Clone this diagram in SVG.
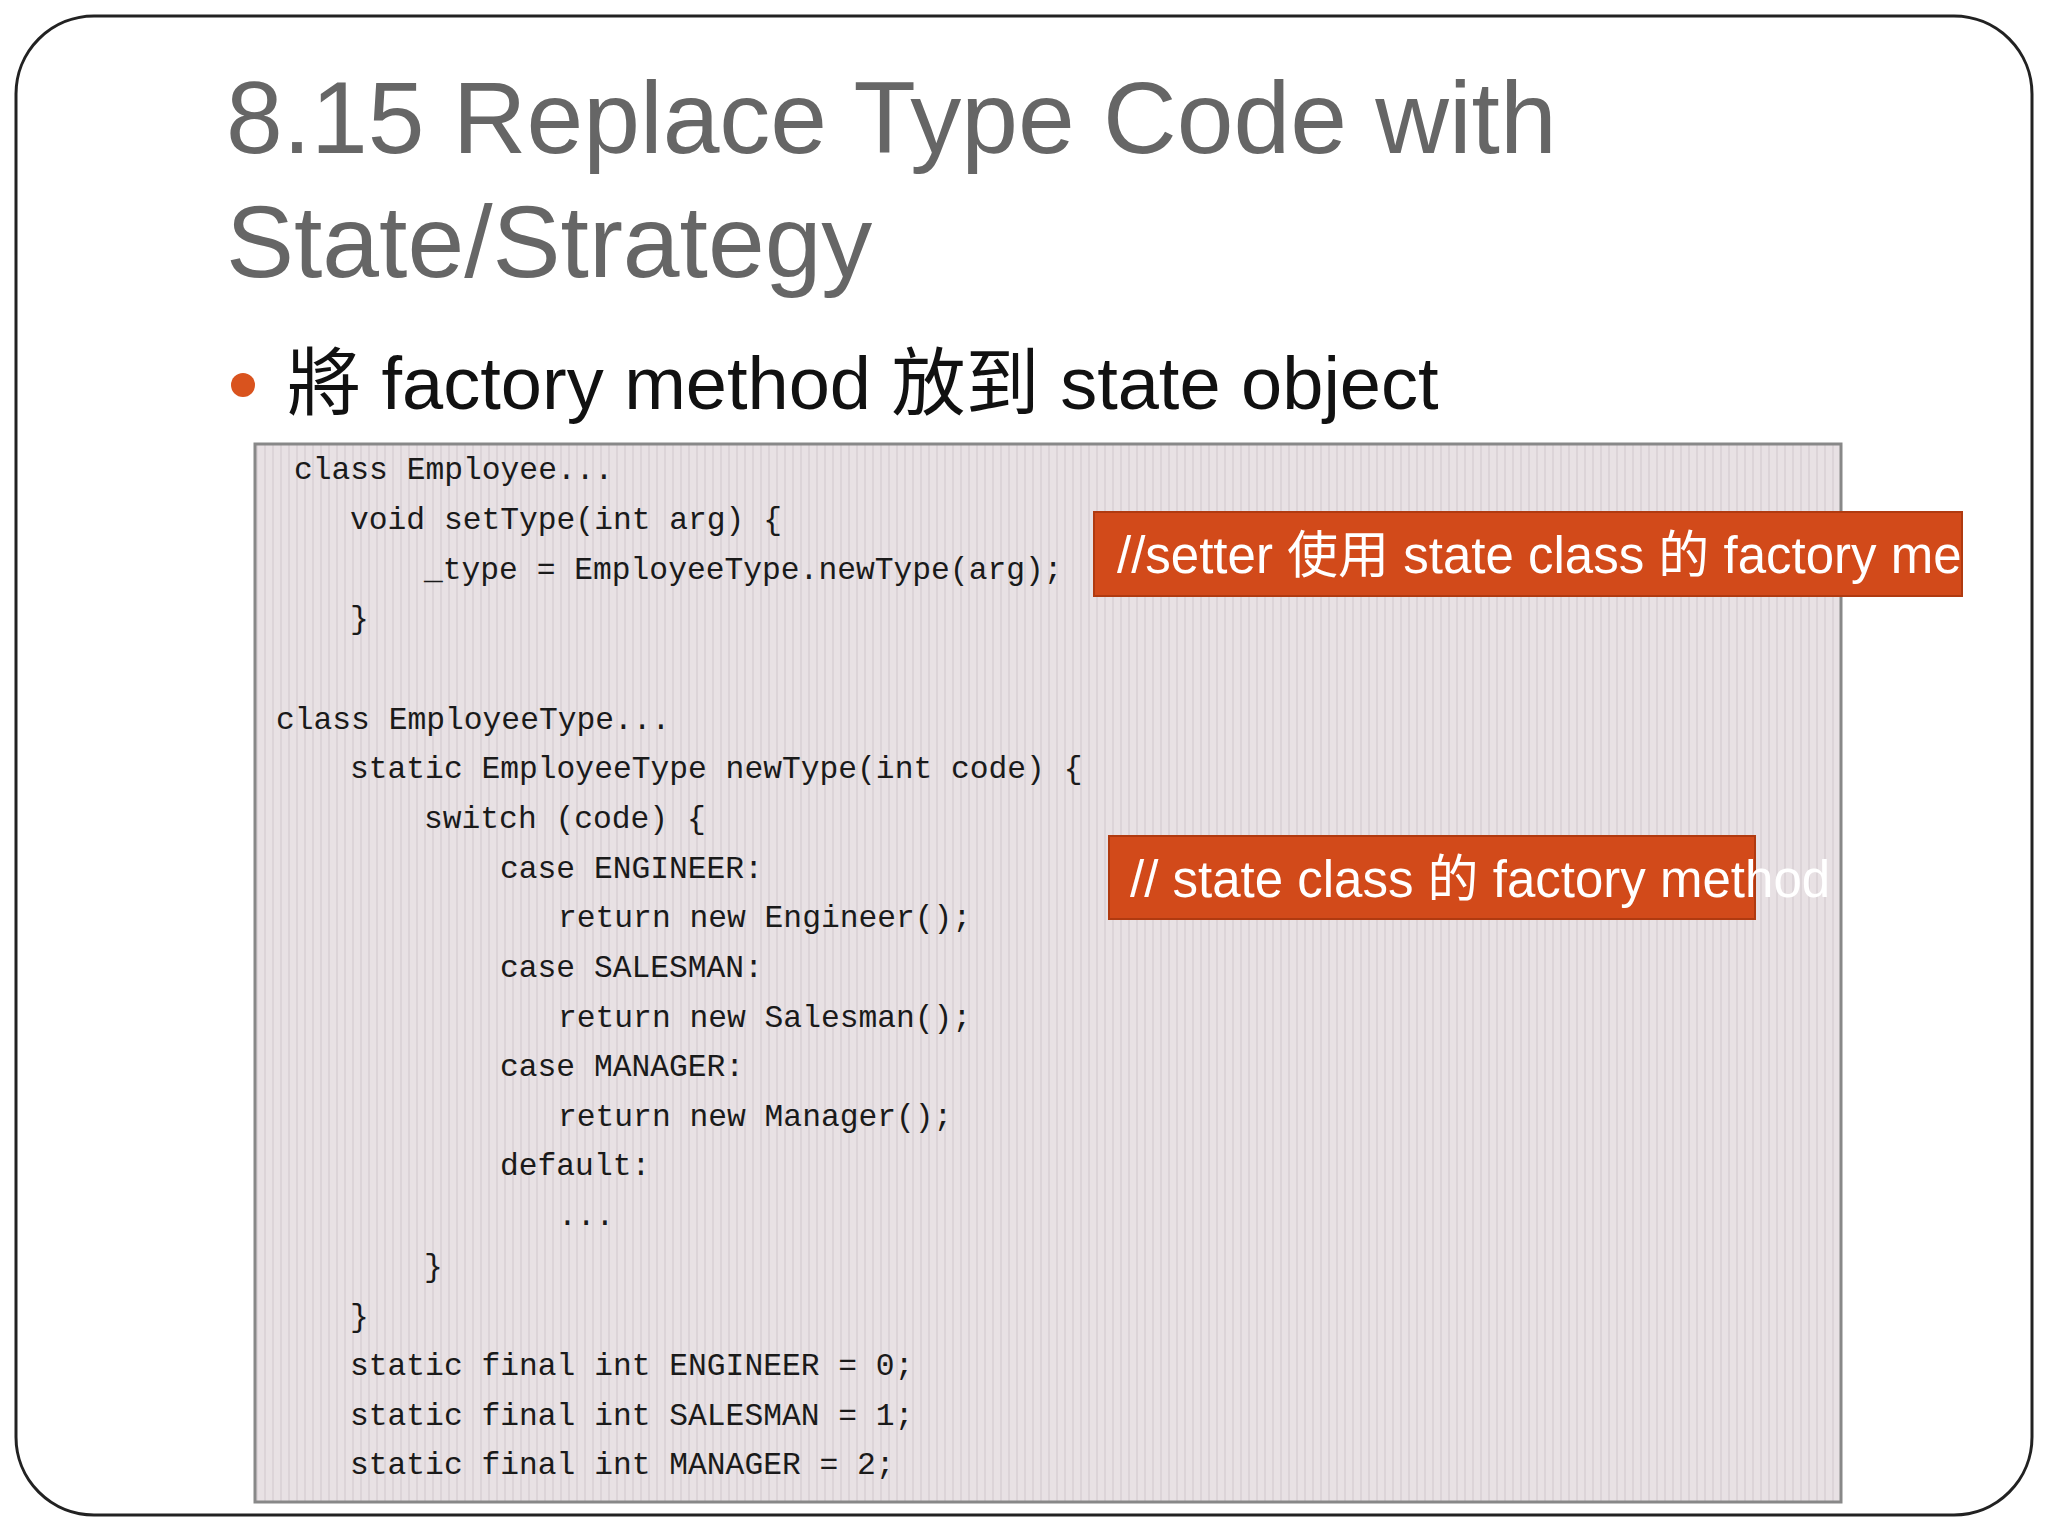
<svg xmlns="http://www.w3.org/2000/svg" width="2048" height="1536" viewBox="0 0 2048 1536">
<defs>
<style>
.code{font-family:"Liberation Mono",monospace;font-size:31.3px;fill:#1a1a1a}
.title{font-family:"Liberation Sans",Arial,sans-serif;font-size:102px;fill:#666}
.note{font-family:"Liberation Sans","Noto Sans CJK TC",sans-serif;font-size:51px;fill:#fff}
</style>
<pattern id="stripes" width="8" height="8" patternUnits="userSpaceOnUse">
<rect width="8" height="8" fill="#e8e1e4"/>
<rect width="2" height="8" fill="#dcd4d8"/>
</pattern>
<clipPath id="c1"><rect x="1094" y="512" width="868" height="84"/></clipPath>
</defs>
<rect width="2048" height="1536" fill="#fff"/>
<rect x="16" y="16" width="2016" height="1499" rx="78" fill="#fff" stroke="#222" stroke-width="3"/>
<text class="title" x="226" y="153">8.15 Replace Type Code with</text>
<text class="title" x="226" y="277">State/Strategy</text>
<circle cx="243" cy="385" r="12" fill="#d9531e"/>
<text x="287" y="409" style="font-family:'Liberation Sans','Noto Sans CJK TC',sans-serif;font-size:74px;fill:#111">將 factory method 放到 state object</text>
<g id="codebox">
<rect x="255" y="444" width="1586" height="1058" fill="url(#stripes)" stroke="#888" stroke-width="3"/>
<text class="code" x="294" y="479">class Employee...</text>
<text class="code" x="350" y="529">void setType(int arg) {</text>
<text class="code" x="424" y="579">_type = EmployeeType.newType(arg);</text>
<text class="code" x="350" y="628">}</text>
<text class="code" x="276" y="729">class EmployeeType...</text>
<text class="code" x="350" y="778">static EmployeeType newType(int code) {</text>
<text class="code" x="424" y="828">switch (code) {</text>
<text class="code" x="500" y="878">case ENGINEER:</text>
<text class="code" x="558" y="927">return new Engineer();</text>
<text class="code" x="500" y="977">case SALESMAN:</text>
<text class="code" x="558" y="1027">return new Salesman();</text>
<text class="code" x="500" y="1076">case MANAGER:</text>
<text class="code" x="558" y="1126">return new Manager();</text>
<text class="code" x="500" y="1175">default:</text>
<text class="code" x="558" y="1225">...</text>
<text class="code" x="424" y="1276">}</text>
<text class="code" x="350" y="1326">}</text>
<text class="code" x="350" y="1375">static final int ENGINEER = 0;</text>
<text class="code" x="350" y="1425">static final int SALESMAN = 1;</text>
<text class="code" x="350" y="1474">static final int MANAGER = 2;</text>
</g>
<g id="note1">
<rect x="1094" y="512" width="868" height="84" fill="#d24a1a" stroke="#b03a10" stroke-width="2"/>
<text class="note" x="1117" y="573" clip-path="url(#c1)">//setter 使用 state class 的 factory method</text>
</g>
<g id="note2">
<rect x="1109" y="836" width="646" height="83" fill="#d24a1a" stroke="#b03a10" stroke-width="2"/>
<text class="note" x="1130" y="897">// state class 的 factory method</text>
</g>
</svg>
